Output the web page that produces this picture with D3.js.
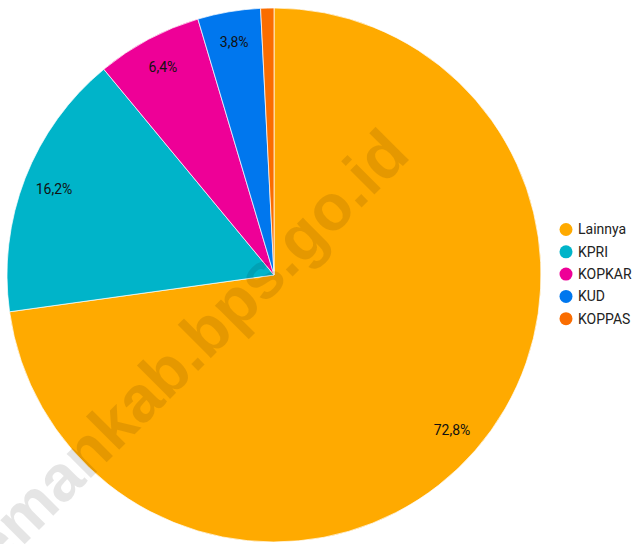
<!DOCTYPE html>
<html>
<head>
<meta charset="utf-8">
<script src="https://cdn.jsdelivr.net/npm/d3@7"></script>
<style>
  html, body { margin: 0; padding: 0; background: #fff; }
  svg { display: block; }
</style>
</head>
<body>
<svg id="chart" width="636" height="544"></svg>
<script>
const categories = ["Lainnya", "KPRI", "KOPKAR", "KUD", "KOPPAS"];
const values = [72.8, 16.2, 6.4, 3.8, 0.8];
const labels = ["72,8%", "16,2%", "6,4%", "3,8%", ""];
const colors = ["#FFAA00", "#00B4C9", "#EE0097", "#0077EE", "#FA6D00"];
const watermarkText = "slemankab.bps.go.id";

const svg = d3.select("#chart");
const cx = 274, cy = 275, R = 267;

const data = categories.map((c, i) => ({ name: c, value: values[i], label: labels[i], color: colors[i] }));
const pie = d3.pie().value(d => d.value).sort(null);
const arcs = pie(data);
const arc = d3.arc().innerRadius(0).outerRadius(R);
const labelArc = d3.arc().innerRadius(236).outerRadius(236);

const g = svg.append("g").attr("transform", `translate(${cx},${cy})`);
g.selectAll("path.slice").data(arcs).enter().append("path")
  .attr("class", "slice")
  .attr("d", arc)
  .attr("fill", d => d.data.color)
  .attr("stroke", "#fff")
  .attr("stroke-width", 0.7);

// watermark
svg.append("text")
  .attr("transform", "translate(-42.5,611.5) rotate(-45)")
  .attr("font-family", "'Liberation Sans', Arial, sans-serif")
  .attr("font-weight", "bold")
  .attr("font-size", 65)
  .attr("fill", "rgba(0,0,0,0.1)")
  .text(watermarkText);

g.selectAll("text.lbl").data(arcs).enter().append("text")
  .attr("class", "lbl")
  .attr("transform", d => `translate(${labelArc.centroid(d)})`)
  .attr("text-anchor", "middle")
  .attr("dy", "0.35em")
  .attr("font-family", "Roboto, sans-serif")
  .attr("font-size", 14)
  .attr("fill", "#111")
  .text(d => d.data.label);

// legend
const legend = svg.append("g");
const items = legend.selectAll("g").data(data).enter().append("g")
  .attr("transform", (d, i) => `translate(566,${229.5 + i * 22.3})`);
items.append("circle").attr("r", 6.5).attr("fill", d => d.color);
items.append("text")
  .attr("x", 12)
  .attr("dy", "0.35em")
  .attr("font-family", "Roboto, sans-serif")
  .attr("font-size", 14)
  .attr("fill", "#222")
  .text(d => d.name);
</script>
</body>
</html>
